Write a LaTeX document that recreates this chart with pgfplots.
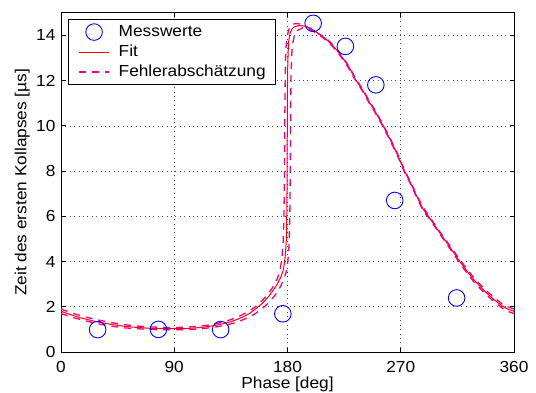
\documentclass[border=0pt]{standalone}
\usepackage{fontspec}
\setmainfont{Liberation Sans}[FakeStretch=1.08]
\usepackage{pgfplots}
\pgfplotsset{compat=1.18}
\begin{document}
\fontsize{16}{19}\selectfont
\begin{tikzpicture}
\path[use as bounding box] (0,0) rectangle (536pt,392pt);
\begin{axis}[
  at={(61pt,40pt)}, anchor=south west,
  scale only axis, width=453pt, height=339.3pt,
  xmin=0, xmax=360, ymin=0, ymax=15,
  xtick={0,90,180,270,360}, ytick={0,2,...,14},
  /pgf/number format/assume math mode=true,
  tick align=inside, major tick length=4.5pt,
  axis line style={line width=0.8pt},
  every tick/.style={line width=0.8pt, black},
  grid=major,
  grid style={black!70, line width=0.6pt, dash pattern=on 0.8pt off 3.6pt},
  xticklabel style={yshift=-4pt},
  xlabel={Phase [deg]},
  ylabel={Zeit des ersten Kollapses [µs]},
  xlabel style={at={(axis description cs:0.5,-0.058)}, anchor=north},
  ylabel style={at={(axis description cs:-0.057,0.5)}, anchor=south},
  legend cell align=left,
  legend image code/.code={\path (0pt,0pt) (39.5pt,0pt);\draw[mark repeat=2,mark phase=2,#1] plot coordinates {(6.5pt,0pt) (21.5pt,0pt) (36.5pt,0pt)};},
  legend style={at={(0.0155,0.981)}, anchor=north west, draw=black, line width=0.8pt,
    fill=white, inner sep=3.5pt, row sep=2pt,
    nodes={text height=11.5pt, text depth=3.5pt, inner ysep=1.5pt, inner xsep=6pt}},
]
\addplot[only marks, mark=o, mark size=8.3pt, blue, line width=0.9pt] coordinates {
(29.1,0.99) (77.4,1.0) (126.9,0.99) (176.3,1.69) (200.4,14.53) (226,13.51) (250.2,11.81) (265.2,6.7) (314.4,2.39)
};
\addlegendentry{Messwerte}
\addplot[red, line width=1pt, line join=round] coordinates {
(0,1.80) (5,1.70) (10,1.61) (15,1.52) (20,1.45) (25,1.38) (30,1.32) (35,1.27) (40,1.22) (45,1.18)
(50,1.14) (55,1.11) (60,1.09) (65,1.07) (70,1.05) (75,1.04) (80,1.03) (85,1.03) (90,1.03) (95,1.03)
(100,1.04) (105,1.06) (110,1.08) (115,1.11) (120,1.15) (125,1.20) (130,1.27) (135,1.34) (140,1.44)
(145,1.56) (150,1.71) (155,1.92) (160,2.15) (165,2.45) (168,2.68) (171,2.92) (173,3.12) (175,3.35)
(176.5,3.6) (177.5,3.9) (178.3,4.3) (179,4.9) (179.3,5.5) (179.6,7.0) (179.8,9.5) (180,11.8)
(180.2,12.6) (180.5,13.25) (181,13.75) (182,14.08) (183.5,14.27) (185,14.36) (188,14.42) (191,14.43)
(194,14.40) (198,14.32) (202,14.18) (206,14.03) (210,13.86) (214,13.66) (218,13.42) (222,13.14)
(226,12.83) (230,12.48) (234,12.05) (240,11.55) (245,11.05) (250,10.6) (256,10.0) (262,9.35)
(268,8.65) (273,8.0) (278,7.45) (283,6.85) (288,6.3) (292,6.0) (300,5.35) (308,4.72) (317,4.0)
(323,3.55) (328,3.2) (333,2.9) (338,2.62) (344,2.32) (351,2.02) (355,1.9) (360,1.8)
};
\addlegendentry{Fit}
\addplot[magenta, line width=1.3pt, dash pattern=on 7pt off 6pt] coordinates {
(0,1.90) (10,1.70) (20,1.54) (30,1.41) (40,1.30) (50,1.21) (60,1.15) (70,1.11) (80,1.09) (90,1.08)
(100,1.10) (110,1.14) (120,1.21) (130,1.34) (140,1.53) (150,1.82) (155,2.02) (160,2.28) (165,2.60)
(169,2.92) (172,3.25) (174,3.6) (175.5,4.1) (176.5,4.8) (177.2,6.0) (177.6,8.0) (177.9,10.5)
(178.2,12.3) (178.6,13.3) (179.5,13.9) (181,14.25) (183,14.45) (186,14.52) (190,14.5) (194,14.42)
(198,14.3) (202,14.16) (206,14.02) (210,13.9) (214,13.7) (218,13.46) (222,13.18) (226,12.87)
(230,12.52) (234,12.1) (240,11.6) (245,11.1) (250,10.65) (256,10.05) (262,9.4) (268,8.7) (273,8.05)
(278,7.5) (283,6.9) (288,6.38) (292,6.05) (300,5.4) (308,4.78) (317,4.08) (323,3.64) (328,3.29)
(333,2.99) (338,2.71) (344,2.41) (351,2.11) (355,2.0) (360,1.9)
};
\addlegendentry{Fehlerabschätzung}
\addplot[magenta, line width=1.3pt, dash pattern=on 7pt off 6pt, forget plot] coordinates {
(0,1.70) (10,1.52) (20,1.37) (30,1.24) (40,1.14) (50,1.07) (60,1.03) (70,1.00) (80,0.98) (90,0.98)
(100,0.99) (110,1.02) (120,1.08) (130,1.17) (140,1.32) (150,1.55) (155,1.72) (160,1.92) (165,2.18)
(170,2.5) (174,2.85) (177,3.2) (179,3.55) (180.3,4.0) (181.2,4.7) (181.8,5.8) (182.2,8.0) (182.5,10.5)
(182.8,12.2) (183.3,13.1) (184,13.6) (185.5,14.0) (188,14.22) (192,14.33) (196,14.3) (200,14.2)
(204,14.06) (208,13.9) (212,13.72) (216,13.5) (220,13.24) (224,12.93) (228,12.6) (232,12.2)
(236,11.85) (240,11.5) (245,11.0) (250,10.55) (256,9.95) (262,9.3) (268,8.6) (273,7.95) (278,7.4)
(283,6.8) (288,6.22) (292,5.95) (300,5.3) (308,4.66) (317,3.92) (323,3.46) (328,3.11) (333,2.81)
(338,2.53) (344,2.23) (351,1.93) (355,1.8) (360,1.7)
};
\end{axis}
\end{tikzpicture}
\end{document}
